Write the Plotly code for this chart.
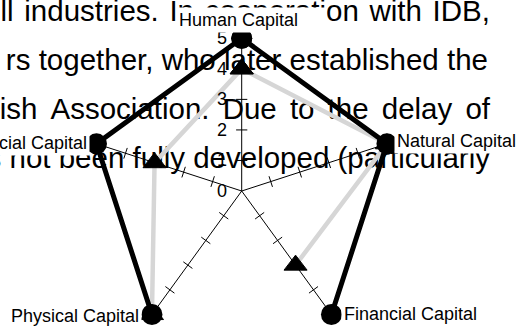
import plotly.graph_objects as go

# ---- data ----
categories = ["Human Capital", "Natural Capital", "Financial Capital",
              "Physical Capital", "Social Capital"]
series_circles = [5, 5, 5, 5, 5]
series_triangles = [4, 5, 3, 5, 3]
radial_ticks = [0, 1, 2, 3, 4, 5]
paragraph_lines = [
    "ll industries. In cooperation with IDB,",
    "rs together, who later established the",
    "ish Association. Due to the delay of",
    "s not been fully developed (particularly",
]
# extra (hair-space) padding per word gap, emulating the justified page
paragraph_pad = [1, 0, 2, 0]

W, H = 518, 328
FONT = "Liberation Sans, Arial, sans-serif"

def closed(v):
    return list(v) + [v[0]]

def justify(line, n):
    return (" " + "\u200a" * n).join(line.split(" "))

fig = go.Figure()

# background paragraph (pixel-space cartesian axes, drawn beneath the polar chart)
fig.add_trace(go.Scatter(
    x=[490, 488, 490, 490],
    y=[14 + 49 * i for i in range(len(paragraph_lines))],
    text=[justify(t, n) for t, n in zip(paragraph_lines, paragraph_pad)],
    mode="text", textposition="middle left",
    textfont=dict(family=FONT, size=29.5, color="black"),
    hoverinfo="skip", showlegend=False,
))

# tick marks on every spoke
tick_r, tick_theta, tick_ang = [], [], []
for i, c in enumerate(categories):
    for r in radial_ticks[1:-1]:
        tick_r.append(r)
        tick_theta.append(c)
        tick_ang.append(i * 360 / len(categories))
fig.add_trace(go.Scatterpolar(
    r=tick_r, theta=tick_theta, mode="markers",
    marker=dict(symbol="line-ew", size=8, angle=tick_ang, angleref="up",
                line=dict(color="black", width=1)),
    hoverinfo="skip", showlegend=False, cliponaxis=False,
))

fig.add_trace(go.Scatterpolar(
    r=closed(series_triangles), theta=closed(categories),
    mode="lines+markers",
    line=dict(color="#d6d6d6", width=4.5),
    marker=dict(symbol="triangle-up", size=20, color="black",
                line=dict(color="black", width=1)),
    showlegend=False, cliponaxis=False,
))
fig.add_trace(go.Scatterpolar(
    r=closed(series_circles), theta=closed(categories),
    mode="lines+markers",
    line=dict(color="black", width=5),
    marker=dict(symbol="circle", size=21, color="black"),
    showlegend=False, cliponaxis=False,
))

# category labels with white boxes
lab = dict(font=dict(family=FONT, size=18, color="black"), showarrow=False,
           bgcolor="white", xref="x", yref="y", borderpad=2)
fig.add_annotation(text="Human Capital", x=176, y=20, xanchor="left", yanchor="middle",
                   width=145, align="left", **lab)
fig.add_annotation(text="Natural Capital", x=394, y=141, xanchor="left", yanchor="middle", **lab)
fig.add_annotation(text="Financial Capital", x=341, y=314, xanchor="left", yanchor="middle", **lab)
fig.add_annotation(text="Physical Capital", x=142, y=316, xanchor="right", yanchor="middle", **lab)
fig.add_annotation(text="Social Capital", x=90, y=143, xanchor="right", yanchor="middle", **lab)

fig.update_layout(
    width=W, height=H, margin=dict(l=0, r=0, t=0, b=0),
    paper_bgcolor="white", plot_bgcolor="white",
    xaxis=dict(range=[0, W], visible=False, domain=[0, 1], fixedrange=True),
    yaxis=dict(range=[H, 0], visible=False, domain=[0, 1], fixedrange=True),
    polar=dict(
        domain=dict(x=[89 / W, 394.4 / W], y=[(H - 316.1) / H, (H - 38.3) / H]),
        sector=[-55, 235],
        bgcolor="rgba(0,0,0,0)",
        angularaxis=dict(type="category", direction="clockwise", rotation=90,
                         showline=False, showticklabels=False, ticks="",
                         showgrid=True, gridcolor="black", gridwidth=1),
        radialaxis=dict(range=[0, 5], showgrid=False, showline=False,
                        ticks="outside", ticklen=8, tickcolor="rgba(0,0,0,0)",
                        tickvals=radial_ticks, angle=90, side="counterclockwise",
                        tickangle=90,
                        tickfont=dict(family=FONT, size=18, color="black")),
    ),
    font=dict(family=FONT),
)

fig.write_html("out.html", config={"displayModeBar": False},
               post_script="document.body.style.margin='0';document.body.style.overflow='hidden';")
